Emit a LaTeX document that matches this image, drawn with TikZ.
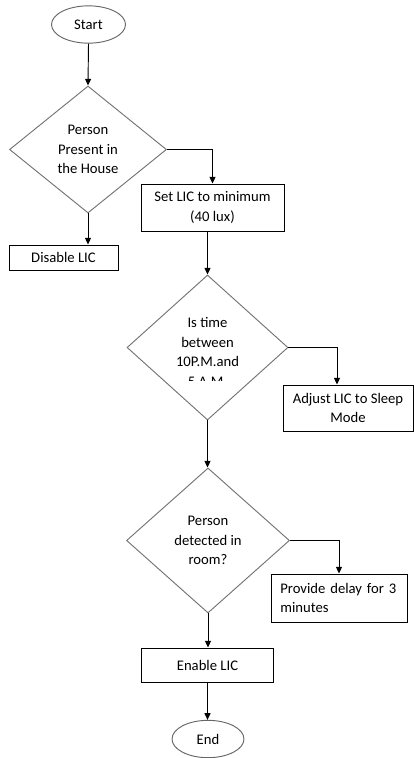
\documentclass[tikz,border=0pt]{standalone}
\usepackage{fontspec}
\setmainfont{Carlito}
\usetikzlibrary{positioning,shapes.geometric,arrows.meta}

\begin{document}
\begin{tikzpicture}[x=0.75pt,y=-0.75pt,line width=0.7pt,
  font=\fontsize{11}{14.6}\selectfont,
  term/.style={draw=black!60,ellipse,minimum width=55.5pt,minimum height=28pt,inner sep=0pt},
  decision/.style={draw=black!55,diamond,inner sep=0pt,align=center},
  process/.style={draw=black,rectangle,inner sep=0pt,align=center},
  arr/.style={-{Triangle[length=5pt,width=4.5pt]}}]
\useasboundingbox (0,0) rectangle (414,758);
% Start and end
\node[term] (start) at (88.5,24.5) {Start};
\node[term,minimum width=54pt] (end) at (208,739) {End};
% Decisions
\node[decision,minimum width=117.75pt,minimum height=95.25pt] (house) at (88,149.5) {Person\\Present in\\the House};
\node[decision,minimum width=120.75pt,minimum height=108.75pt] (time) at (207.5,347.5) {};
\node[decision,minimum width=122.25pt,minimum height=108.75pt] (room) at (208,540.5) {Person\\detected in\\room?};
% Text of the time check, cut off at the bottom
\begin{scope}
\clip (120,300) rectangle (300,380);
\node[align=center,inner sep=0pt] (timetext) at (207.5,352) {Is time\\between\\10P.M.and\\5 A.M.};
\end{scope}
% Boxes
\node[process,minimum width=107.25pt,minimum height=35.25pt] (setlic) at (212.5,207.5) {Set LIC to minimum\\(40 lux)};
\node[process,minimum width=81.75pt,minimum height=18.75pt] (disable) at (63.5,257.5) {Disable LIC};
\node[process,minimum width=97.5pt,minimum height=34.5pt] (sleep) at (348,408) {Adjust LIC to Sleep\\Mode};
\node[process,minimum width=102pt,minimum height=36pt,text width=88pt,align=left] (delay) at (339,598) {Provide delay for 3\\minutes};
\node[process,minimum width=99pt,minimum height=25.5pt] (enable) at (207.5,665) {Enable LIC};
% Arrows
\draw[arr] (start.south) -- (house.north);
\draw[arr] (house.east) -| (setlic.north);
\draw[arr] (house.south) -- (house.south |- disable.north);
\draw[arr] (setlic.south -| time.north) -- (time.north);
\draw[arr] (time.east) -| ([xshift=-8.25pt]sleep.north);
\draw[arr] (time.south) -- (time.south |- room.north);
\draw[arr] (room.east) -| (delay.north);
\draw[arr] (room.south) -- (room.south |- enable.north);
\draw[arr] (enable.south) -- (enable.south |- end.north);
\end{tikzpicture}
\end{document}
